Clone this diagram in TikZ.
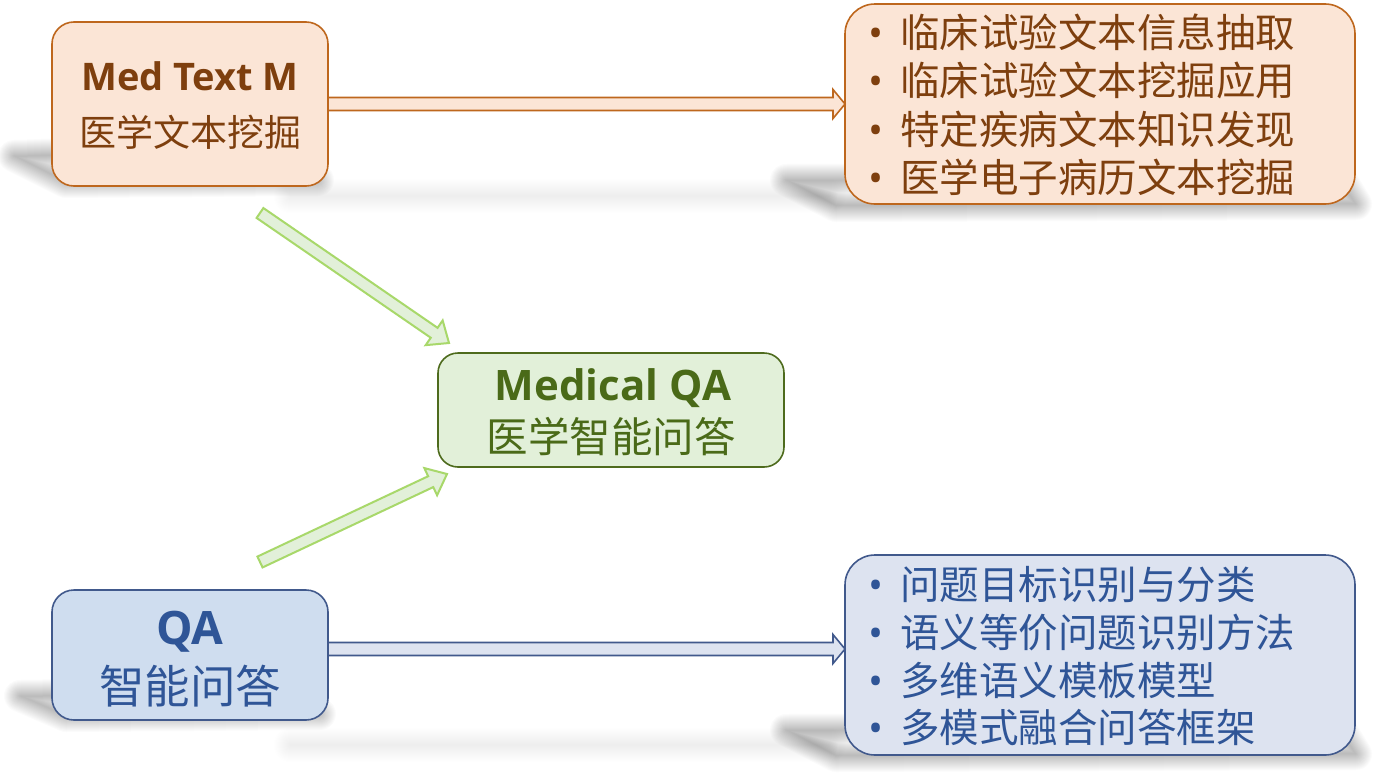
\documentclass[tikz,border=0pt]{standalone}
\usepackage{fontspec}
\setmainfont{Noto Sans CJK SC}
\newfontfamily\latinb{Open Sans}
\usetikzlibrary{calc}
\definecolor{oFill}{HTML}{FBE5D6}
\definecolor{oLine}{HTML}{BE671D}
\definecolor{oText}{HTML}{7E3F0E}
\definecolor{gFill}{HTML}{E2F0D9}
\definecolor{gLine}{HTML}{4E6B1D}
\definecolor{gText}{HTML}{4A6A18}
\definecolor{gArrow}{HTML}{A8D86A}
\definecolor{bFill}{HTML}{CFDDEF}
\definecolor{bFillB}{HTML}{DDE3F0}
\definecolor{bLine}{HTML}{41598C}
\definecolor{bText}{HTML}{2F5597}
\newcommand\blockarrow[6]{%
  \coordinate (bahead) at ($#3!#6!#2$);
  \path[#1] ($#2!#4!90:#3$) -- ($(bahead)!#4!90:#3$) -- ($(bahead)!#5!90:#3$) -- #3
    -- ($(bahead)!#5!-90:#3$) -- ($(bahead)!#4!-90:#3$) -- ($#2!#4!-90:#3$) -- cycle;
}
\newcommand\softshadow[2]{%
  \foreach \w in {32,30,...,2}{\path[draw=black, draw opacity=#2, line width=\w pt, line join=round] #1;}
  \path[fill=black, fill opacity=#2] #1;
}
\tikzset{
  box/.style={rounded corners=#1, line width=1.6pt, inner sep=0pt, outer sep=0pt},
  tbase/.style={anchor=base, inner sep=0pt},
  tline/.style={anchor=base west, inner sep=0pt},
  bul/.style={anchor=base, inner sep=0pt, font=\latinb\fontsize{40}{40}\selectfont},
}
\begin{document}
\begin{tikzpicture}[x=1pt, y=-1pt]
\useasboundingbox (0,0) rectangle (1375,779);
\fill[white] (0,0) rectangle (1375,779);
% shadows
\softshadow{(14,156) -- (280,146) -- (318,180) -- (66,182) -- cycle}{0.016}
\softshadow{(786,180) -- (1340,178) -- (1356,204) -- (836,206) -- cycle}{0.016}
\softshadow{(290,195) -- (830,195) -- (830,197) -- (290,197) -- cycle}{0.005}
\softshadow{(20,696) -- (290,690) -- (320,714) -- (66,716) -- cycle}{0.016}
\softshadow{(786,730) -- (1340,728) -- (1356,754) -- (836,756) -- cycle}{0.016}
\softshadow{(290,744) -- (830,744) -- (830,746) -- (290,746) -- cycle}{0.005}
% boxes
\node[box=22pt, draw=oLine, fill=oFill, minimum width=276pt, minimum height=164pt] (tl) at (190,104) {};
\node[box=30pt, draw=oLine, fill=oFill, minimum width=510pt, minimum height=200pt] (tr) at (1100,104) {};
\node[box=20pt, draw=gLine, fill=gFill, minimum width=346pt, minimum height=114pt] (mq) at (611,410) {};
\node[box=22pt, draw=bLine, fill=bFill, minimum width=276pt, minimum height=130pt] (bl) at (190,655) {};
\node[box=30pt, draw=bLine, fill=bFillB, minimum width=510pt, minimum height=200pt] (br) at (1100,655) {};
% horizontal arrows
\blockarrow{fill=oFill, draw=oLine, line width=1.6pt}{(tl.east)}{(tr.west)}{6.5pt}{14.5pt}{12pt}
\coordinate (bla) at ($(bl.east)+(0,-6)$);
\coordinate (bra) at ($(br.west)+(0,-6)$);
\blockarrow{fill=bFillB, draw=bLine, line width=1.6pt}{(bla)}{(bra)}{6.5pt}{14.5pt}{12pt}
% green arrows
\coordinate (g1s) at (260,213);
\coordinate (g1e) at ($(mq.north west)+(11,-10)$);
\coordinate (g2s) at (260,562);
\coordinate (g2e) at ($(mq.south west)+(9,7)$);
\blockarrow{fill=gFill, draw=gArrow, line width=2pt}{(g1s)}{(g1e)}{6pt}{15pt}{18pt}
\blockarrow{fill=gFill, draw=gArrow, line width=2pt}{(g2s)}{(g2e)}{6pt}{15pt}{18pt}
% texts left / middle
\node[tbase, text=oText, font=\latinb\bfseries\fontsize{38}{38}\selectfont] (tlt) at (190,90) {Med Text M};
\node[tbase, text=oText, font=\fontsize{37}{37}\selectfont] (tlc) at (190,146) {医学文本挖掘};
\node[tbase, text=gText, font=\latinb\bfseries\fontsize{42}{42}\selectfont] (mqt) at (613,400) {Medical QA};
\node[tbase, text=gText, font=\fontsize{41.5}{41.5}\selectfont] (mqc) at (611,452) {医学智能问答};
\node[tbase, text=bText, font=\latinb\bfseries\fontsize{46}{46}\selectfont] (blt) at (190,644) {QA};
\node[tbase, text=bText, font=\fontsize{45.5}{45.5}\selectfont] (blc) at (190,703) {智能问答};
% right lists
\begin{scope}[every node/.append style={text=oText}]
\node[bul] (tb1) at (876,47) {•};
\node[bul] (tb2) at (876,95) {•};
\node[bul] (tb3) at (876,144) {•};
\node[bul] (tb4) at (876,192) {•};
\node[tline, font=\fontsize{39.5}{39.5}\selectfont] (tr1) at (900,47) {临床试验文本信息抽取};
\node[tline, font=\fontsize{39.5}{39.5}\selectfont] (tr2) at (900,95) {临床试验文本挖掘应用};
\node[tline, font=\fontsize{39.5}{39.5}\selectfont] (tr3) at (900,144) {特定疾病文本知识发现};
\node[tline, font=\fontsize{39.5}{39.5}\selectfont] (tr4) at (900,192) {医学电子病历文本挖掘};
\end{scope}
\begin{scope}[every node/.append style={text=bText}]
\node[bul] (bb1) at (876,599) {•};
\node[bul] (bb2) at (876,647) {•};
\node[bul] (bb3) at (876,695) {•};
\node[bul] (bb4) at (876,742) {•};
\node[tline, font=\fontsize{39.5}{39.5}\selectfont] (br1) at (900,599) {问题目标识别与分类};
\node[tline, font=\fontsize{39.5}{39.5}\selectfont] (br2) at (900,647) {语义等价问题识别方法};
\node[tline, font=\fontsize{39.5}{39.5}\selectfont] (br3) at (900,695) {多维语义模板模型};
\node[tline, font=\fontsize{39.5}{39.5}\selectfont] (br4) at (900,742) {多模式融合问答框架};
\end{scope}
\end{tikzpicture}
\end{document}
